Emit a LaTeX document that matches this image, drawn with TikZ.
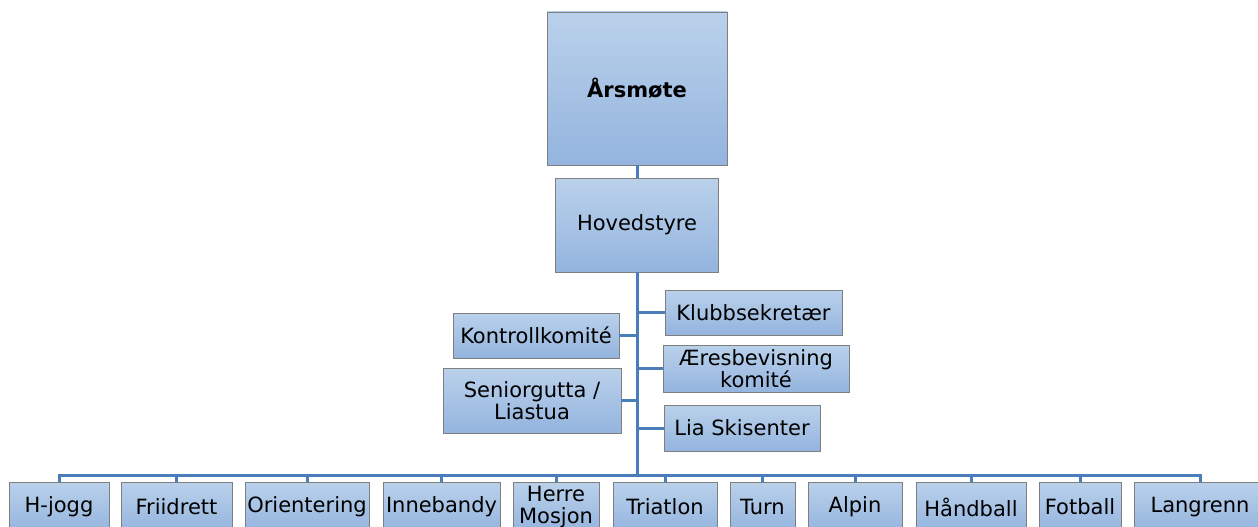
\documentclass[tikz,border=0pt]{standalone}
\usepackage{fontspec}
\setmainfont{DejaVu Sans}
\definecolor{boxtop}{HTML}{BAD1EB}
\definecolor{boxbot}{HTML}{94B4DE}
\definecolor{boxline}{HTML}{7F7F7F}
\definecolor{conn}{HTML}{4A7EBB}
\begin{document}
\begin{tikzpicture}[x=1pt,y=-1pt,
  orgbox/.style={draw=boxline, line width=0.8pt, top color=boxtop, bottom color=boxbot,
    rectangle, inner sep=0pt, align=center, font=\fontsize{21}{22}\selectfont},
  link/.style={draw=conn, line width=3pt}]
\useasboundingbox (0,0) rectangle (1258,527);
\begin{scope}
\clip (0,0) rectangle (1258,527);
% connectors first
\coordinate (bus) at (637,475);
\node[orgbox, minimum width=180pt, minimum height=153pt, font=\fontsize{21}{22}\selectfont\bfseries] (ars) at (637,88.5) {Årsmøte};
\node[orgbox, minimum width=163pt, minimum height=94pt] (hov) at (637,225) {Hovedstyre};
\node[orgbox, minimum width=166pt, minimum height=45pt] (kon) at (536,335.5) {Kontrollkomité};
\node[orgbox, minimum width=178pt, minimum height=65pt] (sen) at (532,400.5) {Seniorgutta /\\Liastua};
\node[orgbox, minimum width=177pt, minimum height=45pt] (klu) at (753.5,312.5) {Klubbsekretær};
\node[orgbox, minimum width=186pt, minimum height=47pt] (aer) at (756,368.5) {Æresbevisning\\komité};
\node[orgbox, minimum width=156pt, minimum height=46pt] (lia) at (742,428) {Lia Skisenter};
\foreach \nm/\cx/\w/\txt in {
  hj/59/100/{H-jogg},
  fr/176.5/111/{Friidrett},
  or/307/124/{Orientering},
  in/441.5/117/{Innebandy},
  he/556/86/{Herre\\Mosjon},
  tr/665/104/{Triatlon},
  tu/762.5/65/{Turn},
  al/855/94/{Alpin},
  ha/971/110/{Håndball},
  fo/1080/82/{Fotball},
  la/1200/132/{Langrenn}}{
  \node[orgbox, minimum width=\w pt, minimum height=50pt] (\nm) at (\cx,507) {\txt};
}
\begin{scope}[on background layer/.style={}]
\end{scope}
\draw[link] (ars.south) -- (hov.north);
\draw[link] (hov.south) -- (bus);
\foreach \s in {kon,sen}{
  \draw[link] (hov.south |- \s.east) -- (\s.east);
}
\foreach \s in {klu,aer,lia}{
  \draw[link] (hov.south |- \s.west) -- (\s.west);
}
\foreach \s in {hj,fr,or,in,he,tr,tu,al,ha,fo,la}{
  \draw[link] (bus) -| (\s.north);
}
\end{scope}
\end{tikzpicture}
\end{document}
